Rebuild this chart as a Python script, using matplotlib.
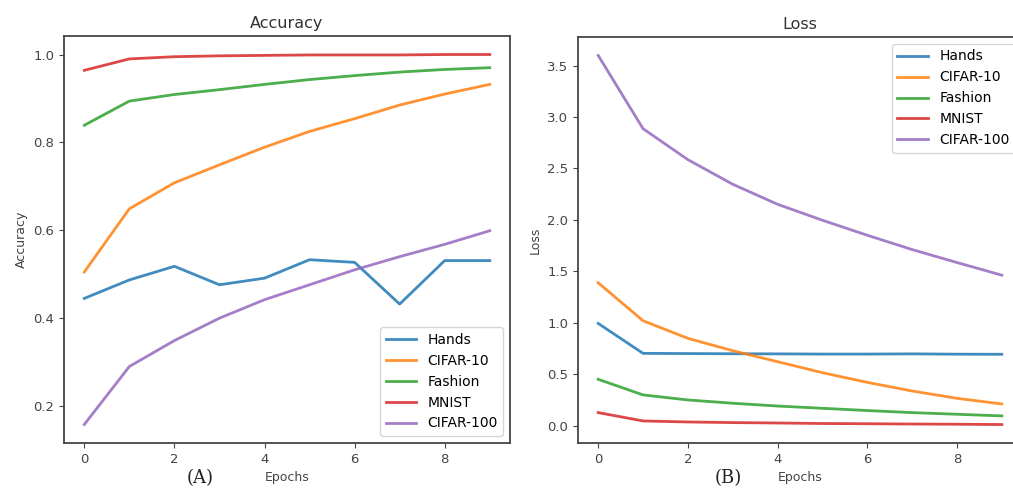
"""
Training accuracy / loss curves for five datasets
"""

import matplotlib
matplotlib.use("Agg")
import matplotlib.pyplot as plt

epochs = list(range(10))
names = ["Hands", "CIFAR-10", "Fashion", "MNIST", "CIFAR-100"]
colors = ["#1f77b4", "#ff7f0e", "#2ca02c", "#d62728", "#9467bd"]

acc_hands = [0.445, 0.487, 0.518, 0.476, 0.491, 0.533, 0.527, 0.432, 0.531, 0.531]
acc_cifar10 = [0.505, 0.649, 0.708, 0.749, 0.789, 0.825, 0.854, 0.885, 0.910, 0.932]
acc_fashion = [0.839, 0.894, 0.909, 0.920, 0.932, 0.943, 0.952, 0.960, 0.966, 0.970]
acc_mnist = [0.964, 0.990, 0.995, 0.997, 0.998, 0.999, 0.999, 0.999, 1.000, 1.000]
acc_cifar100 = [0.158, 0.290, 0.349, 0.400, 0.442, 0.476, 0.510, 0.540, 0.568, 0.599]

loss_hands = [0.993, 0.702, 0.700, 0.698, 0.697, 0.695, 0.695, 0.697, 0.694, 0.693]
loss_cifar10 = [1.388, 1.019, 0.848, 0.728, 0.621, 0.514, 0.420, 0.336, 0.265, 0.210]
loss_fashion = [0.450, 0.298, 0.249, 0.217, 0.190, 0.168, 0.146, 0.126, 0.110, 0.094]
loss_mnist = [0.126, 0.045, 0.035, 0.029, 0.025, 0.020, 0.018, 0.015, 0.013, 0.010]
loss_cifar100 = [3.598, 2.886, 2.585, 2.346, 2.151, 1.996, 1.850, 1.711, 1.585, 1.462]

acc = [acc_hands, acc_cifar10, acc_fashion, acc_mnist, acc_cifar100]
loss = [loss_hands, loss_cifar10, loss_fashion, loss_mnist, loss_cifar100]

fig = plt.figure(figsize=(10.13, 4.92), dpi=100)
ax1 = fig.add_axes([0.0632, 0.0996, 0.4403, 0.8272])
ax2 = fig.add_axes([0.5706, 0.0996, 0.4383, 0.8252])

panels = [
    (ax1, acc, "Accuracy", "lower right", "(A)", 0.198),
    (ax2, loss, "Loss", "upper right", "(B)", 0.719),
]
for ax, series, title, loc, tag, tx in panels:
    for name, vals, c in zip(names, series, colors):
        ax.plot(epochs, vals, color=c, lw=2, alpha=0.85, label=name)
    ax.set_title(title, fontsize=11.5, color="#333333")
    ax.set_xlabel("Epochs", fontsize=9, color="#444444", labelpad=4)
    ax.set_ylabel(title, fontsize=9, color="#444444")
    ax.set_xticks([0, 2, 4, 6, 8])
    ax.tick_params(labelsize=9.5, colors="#444444")
    for s in ax.spines.values():
        s.set_color("#444444")
        s.set_linewidth(1.3)
    ax.legend(loc=loc, fontsize=10, frameon=True, handlelength=2.2)
    fig.text(tx, 0.028, tag, fontsize=13, family="DejaVu Serif",
             color="#222222", ha="center", va="center")

fig.savefig("out.png", dpi=100)
print("Saved: out.png")
